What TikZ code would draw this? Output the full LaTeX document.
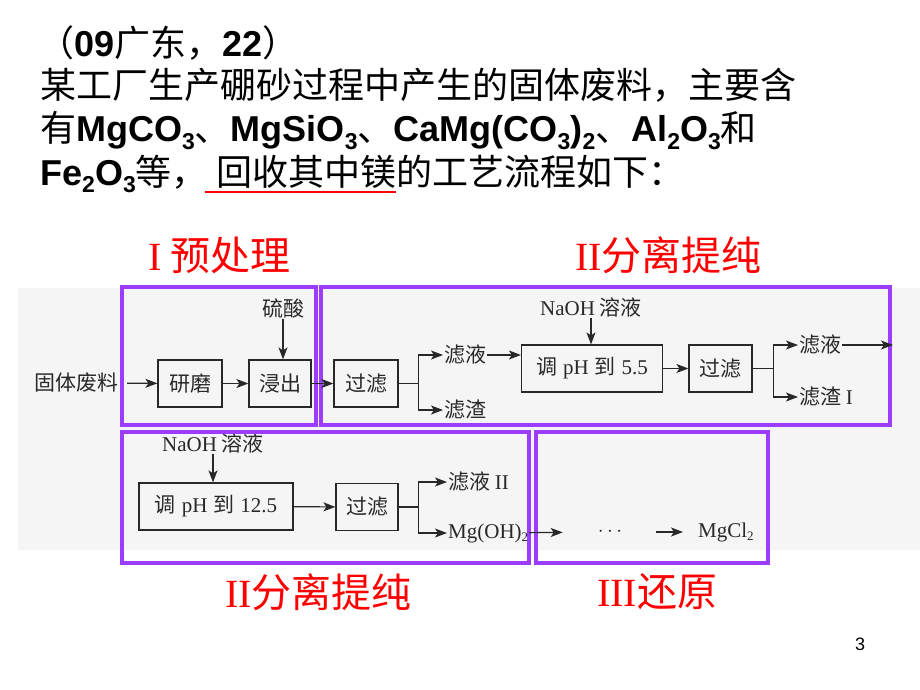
\documentclass[tikz,border=0pt]{standalone}
\usepackage{fontspec}
\setmainfont{Liberation Serif}
\setsansfont{Liberation Sans}
\newfontfamily\cjk{Noto Sans CJK SC}
\usetikzlibrary{arrows.meta, positioning}
\definecolor{purp}{RGB}{155,60,255}
\definecolor{ink}{RGB}{40,40,40}
\newcommand{\hl}[1]{{\sffamily\bfseries\fontsize{36}{40}\selectfont #1}}
\newcommand{\hs}[1]{\raisebox{-7pt}{\fontsize{23}{23}\selectfont #1}}
\newcommand{\ds}[1]{\raisebox{-3pt}{\fontsize{13}{13}\selectfont #1}}

\begin{document}
\begin{tikzpicture}[x=1pt, y=-1pt,
    >={Stealth[length=12pt, width=9pt, inset=3pt]},
    hdr/.style={anchor=base west, inner sep=0pt, font=\fontsize{36}{40}\selectfont\cjk},
    sect/.style={anchor=west, text=red, inner sep=0pt, font=\fontsize{40}{40}\selectfont\cjk},
    proc/.style={rectangle, draw=ink, line width=1.2pt, minimum height=47pt, inner sep=3pt, text=ink, font=\fontsize{21}{21}\selectfont\cjk},
    lbl/.style={inner sep=1pt, text=ink, font=\fontsize{21}{21}\selectfont\cjk},
    grp/.style={draw=purp, line width=4pt},
    flow/.style={->, draw=ink, line width=1.2pt}
    ]
    \useasboundingbox (0,0) rectangle (920,690);
    \fill[black!4] (18,288) rectangle (920,550);
    % Header text
    \node[hdr] (t1) at (38,57) {（\hl{09}广东，\hl{22}）};
    \node[hdr] (t2) at (40,99) {某工厂生产硼砂过程中产生的固体废料，主要含};
    \node[hdr] (t3) at (40,142) {有\hl{MgCO\hs3}、\hl{MgSiO\hs3}、\hl{CaMg(CO\hs3)\hs2}、\hl{Al\hs2O\hs3}和};
    \node[hdr] (t4a) at (40,185) {\hl{Fe\hs2O\hs3}等，};
    \node[hdr] (key) at ([xshift=8pt]t4a.base east) {回收其中镁};
    \node[hdr] (t4b) at (key.base east) {的工艺流程如下：};
    \draw[red, line width=2pt] ([xshift=-11pt, yshift=-7pt]key.base west) -- ([yshift=-7pt]key.base east);
    % Section labels
    \node[sect] (secA) at (148,255) {{\rmfamily I} 预处理};
    \node[sect] (secB) at (575,255) {{\rmfamily II}分离提纯};
    \node[sect] (secC) at (225,592) {{\rmfamily II}分离提纯};
    \node[sect] (secD) at (597,592) {{\rmfamily III}还原};
    % Nodes, first row
    \node[lbl] (raw) at (76,383) {固体废料};
    \node[proc, minimum width=64pt] (grind) at (190,383.5) {研磨};
    \node[proc, minimum width=62pt] (leach) at (280,383.5) {浸出};
    \node[lbl] (acid) at (283,308) {硫酸};
    \node[proc, minimum width=64pt] (filt1) at (366,383.5) {过滤};
    \node[lbl, anchor=west] (liq1) at (443,355) {滤液};
    \node[lbl, anchor=west] (res1) at (443,410) {滤渣};
    \node[proc, minimum width=141pt] (ph1) at (592,368.5) {调\hspace{6pt}{\rmfamily pH}\hspace{6pt}到\hspace{6pt}{\rmfamily 5.5}};
    \node[lbl] (naoh1) at (591,307) {{\rmfamily NaOH} 溶液};
    \node[proc, minimum width=63pt] (filt2) at (720.5,368.5) {过滤};
    \node[lbl, anchor=west] (liq2) at (798,345) {滤液};
    \node[lbl, anchor=west] (res2) at (798,397) {滤渣 {\rmfamily I}};
    \coordinate (out) at (893,345);
    % Nodes, second row
    \node[proc, minimum width=154pt] (ph2) at (216,506.5) {调\hspace{6pt}{\rmfamily pH}\hspace{6pt}到\hspace{6pt}{\rmfamily 12.5}};
    \node[lbl] (naoh2) at (213,443) {{\rmfamily NaOH} 溶液};
    \node[proc, minimum width=62pt] (filt3) at (367,507) {过滤};
    \node[lbl, anchor=west] (liq3) at (447,482) {滤液 {\rmfamily II}};
    \node[lbl, anchor=west, font=\fontsize{21}{21}\selectfont\rmfamily] (mgoh) at (447,533) {Mg(OH)\ds2};
    \node[lbl] (dots) at (610,532) {$\cdots$};
    \node[lbl, anchor=west, font=\fontsize{21}{21}\selectfont\rmfamily] (mgcl) at (697,532) {MgCl\ds2};
    \node[anchor=base, inner sep=0pt, font=\sffamily\fontsize{18}{18}\selectfont] (page) at (860,650) {3};
    % Frames
    \draw[grp] (122,287) rectangle (316,425);
    \draw[grp] (321,287) rectangle (890,425);
    \draw[grp] (122,432) rectangle (529,563);
    \draw[grp] (536,432) rectangle (768,563);
    % Edges
    \draw[flow, shorten <=8pt] (raw) -- (grind);
    \draw[flow] (grind) -- (leach);
    \draw[flow] (acid) -- (acid |- leach.north);
    \draw[flow] (leach) -- (filt1);
    \draw[flow] (filt1.east) -- ++(20,0) |- (liq1.west);
    \draw[flow] (filt1.east) -- ++(20,0) |- (res1.west);
    \draw[flow] (liq1) -- (liq1 -| ph1.west);
    \draw[flow] (naoh1) -- (naoh1 |- ph1.north);
    \draw[flow] (ph1) -- (filt2);
    \draw[flow] (filt2.east) -- ++(21,0) |- (liq2.west);
    \draw[flow] (filt2.east) -- ++(21,0) |- (res2.west);
    \draw[flow] (liq2) -- (out);
    \draw[flow] (naoh2) -- (naoh2 |- ph2.north);
    \draw[flow] (ph2) -- (filt3);
    \draw[flow] (filt3.east) -- ++(20,0) |- (liq3.west);
    \draw[flow] (filt3.east) -- ++(20,0) |- (mgoh.west);
    \draw[flow, shorten >=34pt] (mgoh) -- (dots);
    \draw[flow, shorten <=33pt, shorten >=14pt] (dots) -- (mgcl);
\end{tikzpicture}
\end{document}
